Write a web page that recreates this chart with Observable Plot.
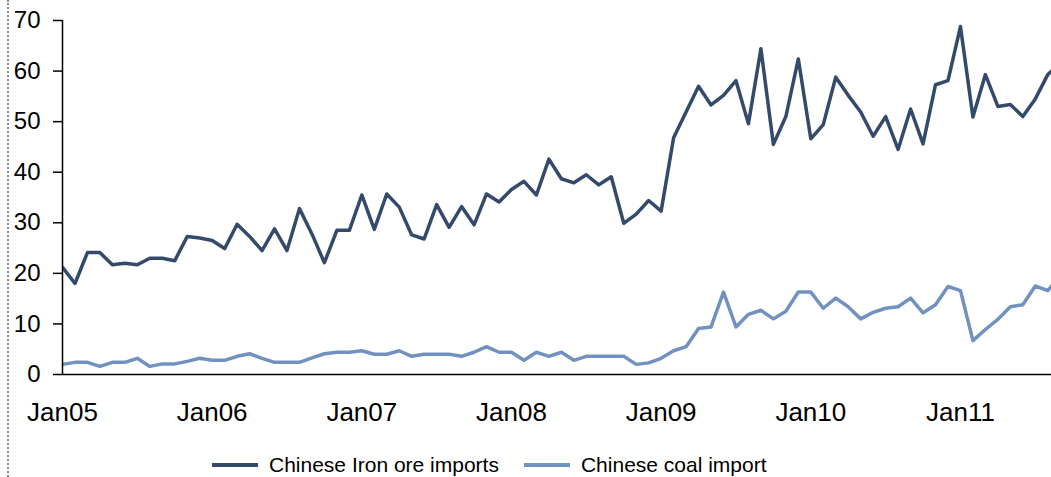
<!DOCTYPE html>
<html>
<head>
<meta charset="utf-8">
<script src="https://cdn.jsdelivr.net/npm/d3@7"></script>
<script src="https://cdn.jsdelivr.net/npm/@observablehq/plot@0.6"></script>
<style>
  html, body { margin: 0; padding: 0; background: #fff; overflow: hidden; }
  body { width: 1051px; height: 477px; position: relative; font-family: "Liberation Sans", Arial, sans-serif; }
  #frame { position: absolute; left: 7px; top: 0; height: 477px; border-left: 2px dotted #8a8a8a; }
  #chart { position: absolute; left: 0; top: 0; }
  #legend { position: absolute; left: 212px; top: 453px; display: flex; align-items: center; font-size: 21px; color: #000; white-space: nowrap; }
  .item { display: flex; align-items: center; margin-right: 25px; }
  .sw { width: 46px; height: 4px; margin-right: 11px; }
</style>
</head>
<body>
<div id="frame"></div>
<div id="chart"></div>
<div id="legend"></div>
<script>
const seriesNames = ["Chinese Iron ore imports", "Chinese coal import"];
const seriesColors = ["#344a6b", "#7191c0"];

// Monthly values, Jan 2005 onward (million tonnes)
const ironOre = [
  21.2, 18.0, 24.1, 24.1, 21.7, 22.0, 21.7, 23.0, 23.0, 22.5, 27.3, 27.0,
  26.5, 24.9, 29.7, 27.3, 24.5, 28.8, 24.5, 32.8, 27.8, 22.1, 28.5, 28.5,
  35.5, 28.7, 35.7, 33.1, 27.6, 26.8, 33.6, 29.1, 33.2, 29.6, 35.7, 34.1,
  36.6, 38.2, 35.5, 42.6, 38.7, 37.9, 39.5, 37.5, 39.1, 29.9, 31.7, 34.4,
  32.3, 46.8, 51.9, 57.0, 53.3, 55.2, 58.1, 49.6, 64.4, 45.5, 51.0, 62.4,
  46.6, 49.4, 58.8, 55.2, 51.9, 47.1, 51.0, 44.5, 52.5, 45.6, 57.3, 58.1,
  68.8, 50.9, 59.3, 53.0, 53.4, 51.0, 54.5, 59.3, 61.5
];
const coal = [
  2.0, 2.4, 2.4, 1.6, 2.4, 2.4, 3.2, 1.6, 2.1, 2.1, 2.6, 3.2,
  2.8, 2.8, 3.6, 4.1, 3.2, 2.4, 2.4, 2.4, 3.3, 4.1, 4.4, 4.4,
  4.7, 4.0, 4.0, 4.7, 3.6, 4.0, 4.0, 4.0, 3.6, 4.4, 5.5, 4.4,
  4.4, 2.8, 4.4, 3.6, 4.4, 2.8, 3.6, 3.6, 3.6, 3.6, 2.0, 2.3,
  3.2, 4.7, 5.5, 9.1, 9.4, 16.3, 9.4, 11.9, 12.7, 11.0, 12.5, 16.3,
  16.3, 13.1, 15.1, 13.4, 11.0, 12.3, 13.1, 13.4, 15.1, 12.2, 13.8, 17.4,
  16.6, 6.7, 8.9, 10.9, 13.4, 13.8, 17.5, 16.6, 19.5
];
const xTickLabels = ["Jan05", "Jan06", "Jan07", "Jan08", "Jan09", "Jan10", "Jan11"];
const xTickMonths = [0, 12, 24, 36, 48, 60, 72];
const yTicks = [0, 10, 20, 30, 40, 50, 60, 70];

const rows = [];
[ironOre, coal].forEach((vals, s) => vals.forEach((v, i) => rows.push({i, value: v, series: seriesNames[s]})));

const chart = Plot.plot({
  width: 1051,
  height: 440,
  marginLeft: 62,
  marginRight: 0,
  marginTop: 20,
  marginBottom: 66,
  style: {fontFamily: "Liberation Sans, Arial, sans-serif", color: "#000", background: "transparent", overflow: "hidden"},
  x: {domain: [0, 79.3], axis: null},
  y: {domain: [0, 70], axis: null},
  color: {domain: seriesNames, range: seriesColors},
  marks: [
    Plot.axisY({ticks: yTicks, tickSize: 9, tickPadding: 13, fontSize: 24, label: null, strokeWidth: 1.5}),
    Plot.axisX({ticks: xTickMonths, tickSize: 0, tickPadding: 28, fontSize: 26, label: null,
      tickFormat: d => xTickLabels[xTickMonths.indexOf(d)]}),
    Plot.lineY(rows, {x: "i", y: "value", stroke: "series", z: "series", strokeWidth: 3.5, clip: true, strokeLinejoin: "round"}),
    Plot.ruleX([0], {stroke: "#000", strokeWidth: 1.5}),
    Plot.ruleY([0], {stroke: "#000", strokeWidth: 1.5})
  ]
});
document.getElementById("chart").appendChild(chart);

const legend = document.getElementById("legend");
seriesNames.forEach((name, k) => {
  const item = document.createElement("div");
  item.className = "item";
  const sw = document.createElement("div");
  sw.className = "sw";
  sw.style.background = seriesColors[k];
  const label = document.createElement("span");
  label.textContent = name;
  item.appendChild(sw);
  item.appendChild(label);
  legend.appendChild(item);
});
</script>
</body>
</html>
